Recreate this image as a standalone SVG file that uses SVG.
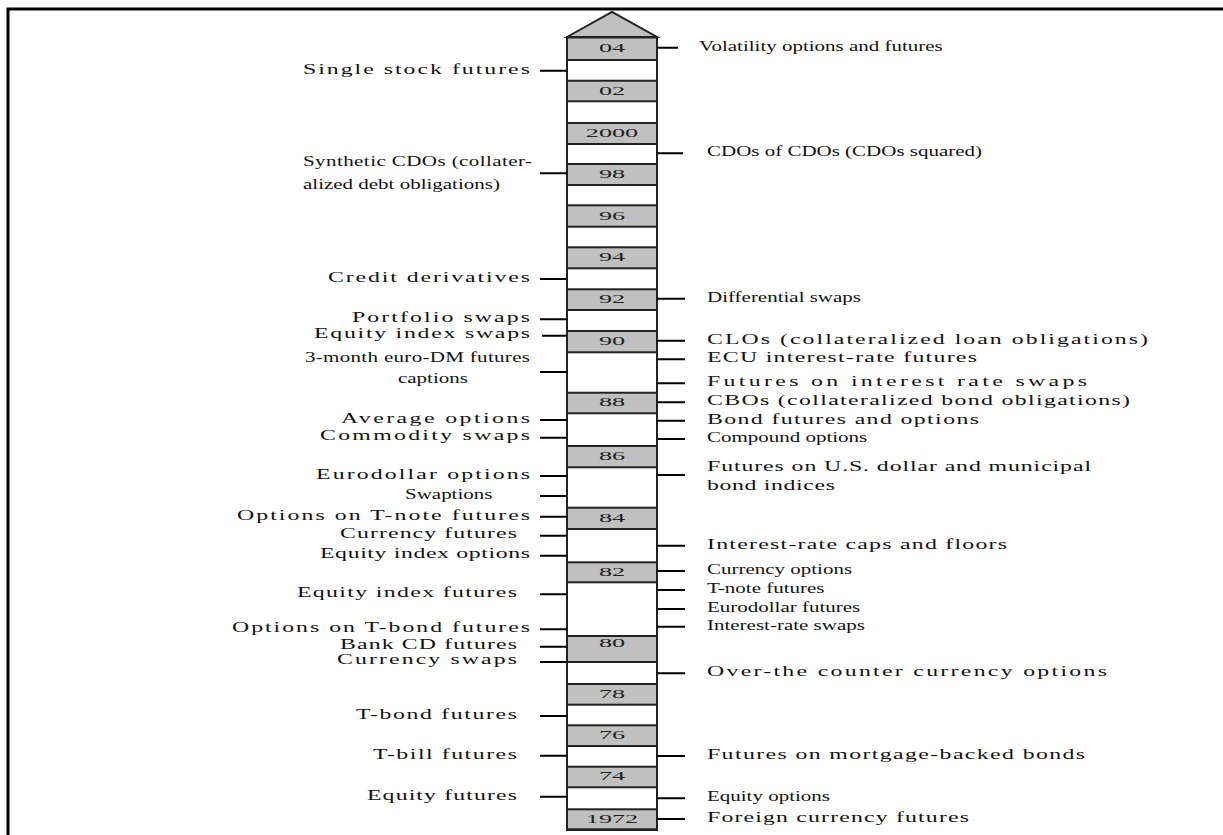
<svg xmlns="http://www.w3.org/2000/svg" width="1223" height="835" viewBox="0 0 1223 835">
<style>
.lbl{font-family:"Liberation Serif","Times New Roman",serif;font-size:14px;fill:#111}
.yr{font-family:"Liberation Serif","Times New Roman",serif;font-size:12.5px;fill:#222;text-anchor:middle}
.g{fill:#c0c0c0;stroke:#222;stroke-width:2}
.tk{stroke:#000;stroke-width:2;fill:none}
</style>
<rect width="1223" height="835" fill="#fff"/>
<g id="frame"><path d="M8 835V9H1223" fill="none" stroke="#000" stroke-width="3"/></g>
<g id="timeline">
<rect x="567" y="37" width="90" height="793" fill="#fff" stroke="#222" stroke-width="2"/>
<polygon points="567,37 612,12 657,37" class="g"/>
<rect class="g" x="567" y="37.5" width="90" height="22.5"/>
<rect class="g" x="567" y="80.7" width="90" height="20.6"/>
<rect class="g" x="567" y="123" width="90" height="21"/>
<rect class="g" x="567" y="164" width="90" height="21"/>
<rect class="g" x="567" y="205.3" width="90" height="21.4"/>
<rect class="g" x="567" y="247.3" width="90" height="21"/>
<rect class="g" x="567" y="289.3" width="90" height="20.7"/>
<rect class="g" x="567" y="331" width="90" height="21.3"/>
<rect class="g" x="567" y="392.7" width="90" height="20.6"/>
<rect class="g" x="567" y="446" width="90" height="21.3"/>
<rect class="g" x="567" y="507.7" width="90" height="21.3"/>
<rect class="g" x="567" y="562.3" width="90" height="20"/>
<rect class="g" x="567" y="636" width="90" height="26"/>
<rect class="g" x="567" y="684" width="90" height="20.7"/>
<rect class="g" x="567" y="725.3" width="90" height="20.7"/>
<rect class="g" x="567" y="766.7" width="90" height="20.6"/>
<rect class="g" x="567" y="809.3" width="90" height="20"/>
<g class="yr">
<text transform="translate(612,51.5) scale(2.1,1)">04</text>
<text transform="translate(612,94.5) scale(2.1,1)">02</text>
<text transform="translate(612,137) scale(2.1,1)">2000</text>
<text transform="translate(612,178) scale(2.1,1)">98</text>
<text transform="translate(612,219.5) scale(2.1,1)">96</text>
<text transform="translate(612,261) scale(2.1,1)">94</text>
<text transform="translate(612,303) scale(2.1,1)">92</text>
<text transform="translate(612,345) scale(2.1,1)">90</text>
<text transform="translate(612,406) scale(2.1,1)">88</text>
<text transform="translate(612,460) scale(2.1,1)">86</text>
<text transform="translate(612,521.5) scale(2.1,1)">84</text>
<text transform="translate(612,575.5) scale(2.1,1)">82</text>
<text transform="translate(612,647) scale(2.1,1)">80</text>
<text transform="translate(612,697.5) scale(2.1,1)">78</text>
<text transform="translate(612,739) scale(2.1,1)">76</text>
<text transform="translate(612,780) scale(2.1,1)">74</text>
<text transform="translate(612,823) scale(2.1,1)">1972</text>
</g>
</g>
<g id="connectors" class="tk">
<path d="M540 70.7H567M540 173.3H567M540 279H567M540 319.3H567M542 335.7H567M540 372H567M540 420H567M540 437.7H567M540 476H567M540 496H567M540 516.7H567M540 535.7H567M540 555.7H567M540 594.3H567M540 629.3H567M540 646.7H567M540 662H567M540 716H567M540 755.7H567M540 796.7H567"/>
<path d="M657 47.7H678M657 153.3H683M657 298.7H685M657 340.7H685M657 359.3H685M657 383.3H685M657 402.3H685M657 420.7H685M657 439H685M657 475H685M657 545.7H685M657 571H685M657 590H685M657 609H685M657 626.7H685M657 673.3H685M657 756H685M657 798.3H685M657 819H685"/>
</g>
<g id="left-labels" class="lbl">
<g id="l-single-stock"><text transform="translate(303,74) scale(1.7,1)" textLength="133.5" lengthAdjust="spacing">Single stock futures</text></g>
<g id="l-synthetic"><text transform="translate(303,166) scale(1.5,1)" textLength="152.7" lengthAdjust="spacing">Synthetic CDOs (collater-</text><text transform="translate(303,189) scale(1.5,1)">alized debt obligations)</text></g>
<g id="l-credit"><text transform="translate(328,282) scale(1.7,1)" textLength="118.8" lengthAdjust="spacing">Credit derivatives</text></g>
<g id="l-portfolio"><text transform="translate(352,322) scale(1.7,1)" textLength="104.7" lengthAdjust="spacing">Portfolio swaps</text></g>
<g id="l-eqidxswaps"><text transform="translate(314,338) scale(1.7,1)" textLength="127.1" lengthAdjust="spacing">Equity index swaps</text></g>
<g id="l-euro-dm"><text transform="translate(305,362) scale(1.5,1)" textLength="150" lengthAdjust="spacing">3-month euro-DM futures</text><text transform="translate(398,383) scale(1.5,1)">captions</text></g>
<g id="l-average"><text transform="translate(341,423) scale(1.7,1)" textLength="111.2" lengthAdjust="spacing">Average options</text></g>
<g id="l-commodity"><text transform="translate(320,440) scale(1.7,1)" textLength="123.5" lengthAdjust="spacing">Commodity swaps</text></g>
<g id="l-eurodollar-opt"><text transform="translate(316,479) scale(1.7,1)" textLength="125.9" lengthAdjust="spacing">Eurodollar options</text></g>
<g id="l-swaptions"><text transform="translate(405,499) scale(1.5,1)">Swaptions</text></g>
<g id="l-tnote-opt"><text transform="translate(237,520) scale(1.7,1)" textLength="172.4" lengthAdjust="spacing">Options on T-note futures</text></g>
<g id="l-currency-fut"><text transform="translate(340,538) scale(1.7,1)" textLength="104.1" lengthAdjust="spacing">Currency futures</text></g>
<g id="l-eqidx-opt"><text transform="translate(320,558) scale(1.7,1)" textLength="123.5" lengthAdjust="spacing">Equity index options</text></g>
<g id="l-eqidx-fut"><text transform="translate(297,597) scale(1.7,1)" textLength="129.4" lengthAdjust="spacing">Equity index futures</text></g>
<g id="l-tbond-opt"><text transform="translate(232,632) scale(1.7,1)" textLength="175.3" lengthAdjust="spacing">Options on T-bond futures</text></g>
<g id="l-bankcd"><text transform="translate(340,649) scale(1.7,1)" textLength="104.1" lengthAdjust="spacing">Bank CD futures</text></g>
<g id="l-currency-swaps"><text transform="translate(337,664) scale(1.7,1)" textLength="105.9" lengthAdjust="spacing">Currency swaps</text></g>
<g id="l-tbond-fut"><text transform="translate(356,719) scale(1.7,1)" textLength="94.7" lengthAdjust="spacing">T-bond futures</text></g>
<g id="l-tbill"><text transform="translate(373,759) scale(1.7,1)" textLength="84.7" lengthAdjust="spacing">T-bill futures</text></g>
<g id="l-equity-fut"><text transform="translate(367,800) scale(1.7,1)" textLength="88.2" lengthAdjust="spacing">Equity futures</text></g>
</g>
<g id="right-labels" class="lbl">
<g id="r-volatility"><text transform="translate(699,51) scale(1.5,1)">Volatility options and futures</text></g>
<g id="r-cdo2"><text transform="translate(707,156) scale(1.5,1)">CDOs of CDOs (CDOs squared)</text></g>
<g id="r-differential"><text transform="translate(707,302) scale(1.5,1)">Differential swaps</text></g>
<g id="r-clo"><text transform="translate(707,344) scale(1.7,1)" textLength="259.4" lengthAdjust="spacing">CLOs (collateralized loan obligations)</text></g>
<g id="r-ecu"><text transform="translate(707,362) scale(1.7,1)" textLength="158.8" lengthAdjust="spacing">ECU interest-rate futures</text></g>
<g id="r-irs-fut"><text transform="translate(707,386) scale(1.7,1)" textLength="223.5" lengthAdjust="spacing">Futures on interest rate swaps</text></g>
<g id="r-cbo"><text transform="translate(707,405) scale(1.7,1)" textLength="248.8" lengthAdjust="spacing">CBOs (collateralized bond obligations)</text></g>
<g id="r-bond-fut-opt"><text transform="translate(707,424) scale(1.7,1)" textLength="160" lengthAdjust="spacing">Bond futures and options</text></g>
<g id="r-compound"><text transform="translate(707,442) scale(1.5,1)">Compound options</text></g>
<g id="r-usd-muni"><text transform="translate(707,471) scale(1.7,1)" textLength="225.9" lengthAdjust="spacing">Futures on U.S. dollar and municipal</text><text transform="translate(707,490) scale(1.7,1)" textLength="75.3" lengthAdjust="spacing">bond indices</text></g>
<g id="r-caps"><text transform="translate(707,549) scale(1.7,1)" textLength="176.5" lengthAdjust="spacing">Interest-rate caps and floors</text></g>
<g id="r-currency-opt"><text transform="translate(707,574) scale(1.5,1)">Currency options</text></g>
<g id="r-tnote-fut"><text transform="translate(707,593) scale(1.5,1)">T-note futures</text></g>
<g id="r-eurodollar-fut"><text transform="translate(707,612) scale(1.5,1)">Eurodollar futures</text></g>
<g id="r-irs"><text transform="translate(707,630) scale(1.5,1)">Interest-rate swaps</text></g>
<g id="r-otc"><text transform="translate(707,676) scale(1.7,1)" textLength="235.3" lengthAdjust="spacing">Over-the counter currency options</text></g>
<g id="r-mbs"><text transform="translate(707,759) scale(1.7,1)" textLength="222.4" lengthAdjust="spacing">Futures on mortgage-backed bonds</text></g>
<g id="r-equity-opt"><text transform="translate(707,801) scale(1.5,1)">Equity options</text></g>
<g id="r-fx-fut"><text transform="translate(707,822) scale(1.7,1)" textLength="154.1" lengthAdjust="spacing">Foreign currency futures</text></g>
</g>
</svg>
